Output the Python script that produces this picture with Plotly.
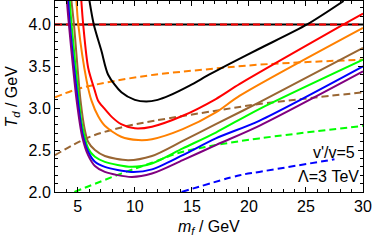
import plotly.graph_objects as go

# solid curves (m_f [GeV], T_d [GeV])
black_m = [6.0, 6.4, 7.08, 7.66, 8.82, 10.0, 11.0, 12.0, 13.0, 14.8, 16.5, 18.3, 20.9, 25.1, 28.3]
black_T = [4.30, 4.0, 3.68, 3.40, 3.19, 3.10, 3.08, 3.10, 3.15, 3.27, 3.40, 3.53, 3.71, 4.0, 4.28]

red_m = [5.3, 5.47, 5.91, 6.49, 6.78, 7.3, 7.95, 8.8, 10.0, 11.5, 14.2, 17.1, 19.2, 28.3, 30.0]
red_T = [4.30, 4.0, 3.48, 3.21, 3.09, 3.0, 2.90, 2.81, 2.76, 2.78, 2.91, 3.11, 3.29, 4.0, 4.13]

orange_m = [4.87, 5.04, 5.77, 6.2, 6.8, 7.37, 8.8, 10.3, 11.5, 14.2, 17.1, 19.2, 30.0]
orange_T = [4.30, 4.0, 3.33, 3.09, 2.90, 2.79, 2.66, 2.62, 2.63, 2.75, 2.95, 3.15, 3.96]

brown_m = [4.43, 4.66, 5.24, 5.6, 5.9, 6.5, 7.37, 9.4, 11.5, 14.2, 17.1, 20.9, 30.0]
brown_T = [4.30, 4.0, 3.09, 2.75, 2.60, 2.50, 2.43, 2.38, 2.43, 2.61, 2.81, 3.07, 3.72]

green_m = [4.28, 4.45, 5.1, 5.33, 5.91, 6.5, 7.37, 9.7, 11.5, 14.2, 17.1, 20.9, 30.0]
green_T = [4.30, 4.0, 3.09, 2.83, 2.52, 2.42, 2.36, 2.30, 2.34, 2.52, 2.71, 2.99, 3.58]

blue_m = [4.15, 4.3, 5.0, 5.4, 5.91, 6.5, 7.37, 9.7, 11.5, 14.2, 17.1, 20.9, 30.0]
blue_T = [4.30, 4.0, 3.09, 2.70, 2.48, 2.36, 2.30, 2.24, 2.27, 2.44, 2.64, 2.85, 3.50]

purple_m = [4.03, 4.22, 4.9, 5.4, 5.9, 6.5, 7.37, 9.7, 11.5, 14.2, 17.1, 20.9, 30.0]
purple_T = [4.30, 4.0, 3.09, 2.65, 2.44, 2.31, 2.24, 2.18, 2.22, 2.38, 2.56, 2.79, 3.44]

# dashed curves
orange_d_m = [3.0, 5.0, 8.0, 11.7, 16.0, 20.9, 30.0]
orange_d_T = [3.13, 3.23, 3.32, 3.40, 3.46, 3.52, 3.58]

brown_d_m = [3.0, 5.9, 8.8, 11.7, 17.1, 20.9, 30.0]
brown_d_T = [2.44, 2.65, 2.77, 2.85, 2.97, 3.05, 3.19]

green_d_m = [4.7, 8.8, 11.5, 14.2, 17.1, 20.9, 30.0]
green_d_T = [2.0, 2.22, 2.35, 2.48, 2.56, 2.64, 2.79]

blue_d_m = [14.1, 19.2, 20.9, 27.5]
blue_d_T = [2.0, 2.20, 2.24, 2.39]

hline_m = [3.0, 30.0]
hline_T = [4.0, 4.0]

x_ticks = [5, 10, 15, 20, 25, 30]
y_ticks = [2.0, 2.5, 3.0, 3.5, 4.0]

fig = go.Figure()

solid = [
    (black_m, black_T, "#000000"),
    (red_m, red_T, "#ff0000"),
    (orange_m, orange_T, "#ff8000"),
    (brown_m, brown_T, "#996633"),
    (green_m, green_T, "#00ff00"),
    (blue_m, blue_T, "#0000ff"),
    (purple_m, purple_T, "#800080"),
]
dashed = [
    (orange_d_m, orange_d_T, "#ff8000"),
    (brown_d_m, brown_d_T, "#996633"),
    (green_d_m, green_d_T, "#00ff00"),
    (blue_d_m, blue_d_T, "#0000ff"),
]

fig.add_trace(go.Scatter(x=hline_m, y=hline_T, mode="lines",
                         line=dict(color="black", width=2)))
fig.add_trace(go.Scatter(x=hline_m, y=hline_T, mode="lines",
                         line=dict(color="#ff0000", width=2, dash="7px,4px")))

for m, t, c in dashed:
    fig.add_trace(go.Scatter(x=m, y=t, mode="lines",
                             line=dict(color=c, width=2, dash="7px,4px", shape="spline", smoothing=1.0)))
for m, t, c in solid:
    fig.add_trace(go.Scatter(x=m, y=t, mode="lines",
                             line=dict(color=c, width=2, shape="spline", smoothing=0.8)))

axis_common = dict(
    showline=True, linecolor="black", linewidth=1, mirror="ticks",
    ticks="inside", ticklen=5, tickcolor="black", tickwidth=1,
    showgrid=False, zeroline=False, automargin=False,
    tickfont=dict(size=16, color="black"),
)

fig.update_xaxes(range=[3, 30], tickvals=x_ticks, ticktext=[str(v) for v in x_ticks],
                 minor=dict(ticks="inside", ticklen=3, dtick=1, tick0=0, tickcolor="black", showgrid=False),
                 **axis_common)
fig.update_yaxes(range=[2.0, 4.28], tickvals=y_ticks, ticktext=["%.1f" % v for v in y_ticks],
                 minor=dict(ticks="inside", ticklen=3, dtick=0.1, tick0=0, tickcolor="black", showgrid=False),
                 **axis_common)

# axis titles
fig.add_annotation(x=0.5, y=0, xref="paper", yref="paper", yanchor="middle", yshift=-35,
                   text="<i>m</i><sub><i>f</i></sub> / GeV", showarrow=False,
                   font=dict(size=16, color="black"))
fig.add_annotation(x=0, y=0.5, xref="paper", yref="paper", xanchor="center", xshift=-43,
                   text="<i>T</i><sub><i>d</i></sub> / GeV", showarrow=False, textangle=-90,
                   font=dict(size=16, color="black"))

fig.add_annotation(x=29.5, y=2.47, xref="x", yref="y", xanchor="right", text="v'/v=5", showarrow=False,
                   font=dict(size=16, color="black"))
fig.add_annotation(x=29.85, y=2.18, xref="x", yref="y", xanchor="right", text="Λ=3 TeV", showarrow=False,
                   font=dict(size=16, color="black"))

fig.update_layout(
    width=374, height=243,
    margin=dict(l=55, r=11, t=1, b=51, autoexpand=False),
    paper_bgcolor="white", plot_bgcolor="white",
    showlegend=False, hovermode=False,
    font=dict(family="Liberation Sans", color="black"),
)

fig.write_html("out.html", config={"displayModeBar": False},
               post_script="document.body.style.margin='0';")
